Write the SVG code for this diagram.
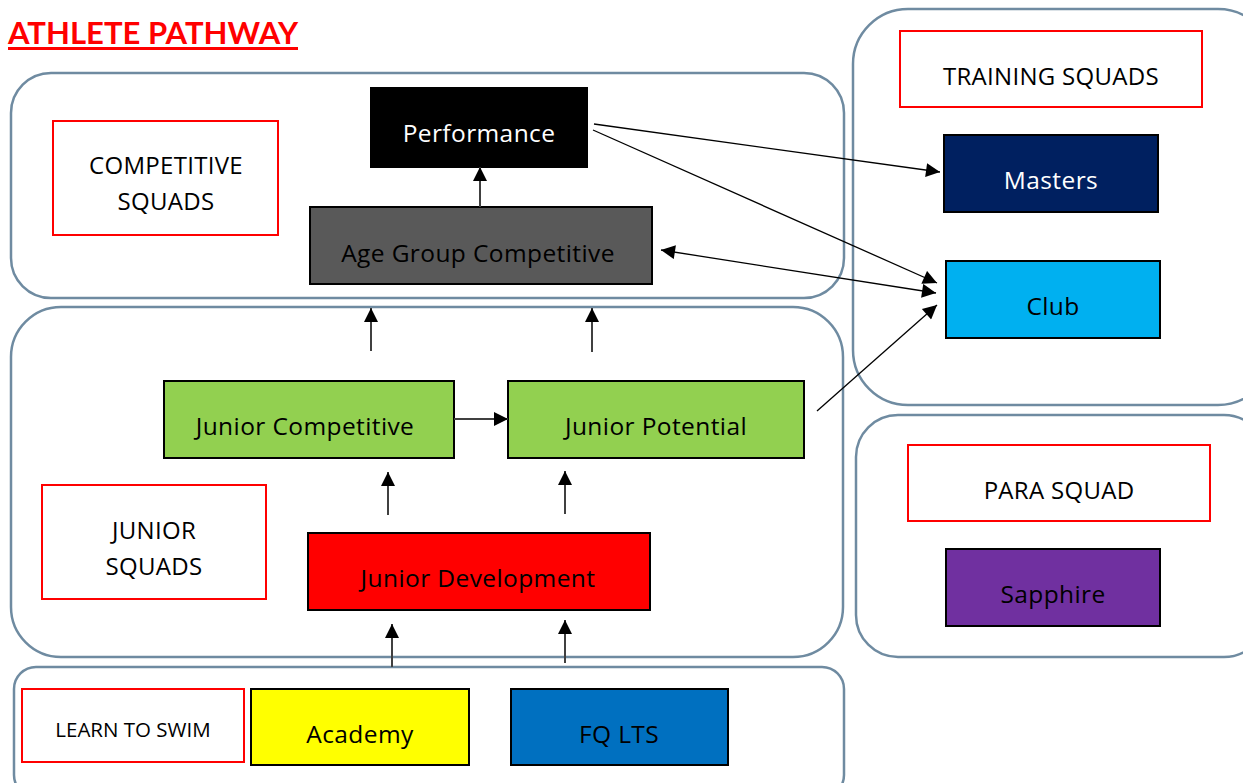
<svg xmlns="http://www.w3.org/2000/svg" width="1243" height="783" viewBox="0 0 1243 783">
<defs>
<marker id="ah" viewBox="0 0 10 10" refX="10" refY="5" markerWidth="16" markerHeight="14" markerUnits="userSpaceOnUse" orient="auto-start-reverse">
<path d="M0,0 L10,5 L0,10 z" fill="#000"/>
</marker>
<style>
.grp{fill:#fff;stroke:#6F8BA1;stroke-width:2.5}
.lbl{fill:#fff;stroke:#FF0000;stroke-width:2}
.node{stroke:#000;stroke-width:2}
text{font-family:"Open Sans",Lato,sans-serif;text-anchor:middle}
.t{font-size:24.5px;fill:#000;letter-spacing:0.4px}
.w{fill:#fff}
.s{font-size:24px;fill:#000;letter-spacing:0.3px}
.c{stroke:#404040;stroke-width:2;fill:none;marker-end:url(#ah)}
.d{stroke:#000;stroke-width:1.3;fill:none;marker-end:url(#ah)}
</style>
</defs>
<rect width="1243" height="783" fill="#fff"/>
<g id="title">
<text x="8" y="44" style="font-family:Lato,'Open Sans',sans-serif;font-weight:bold;font-size:31px;fill:#FF0000;text-anchor:start" textLength="290" lengthAdjust="spacingAndGlyphs">ATHLETE PATHWAY</text>
<rect x="8" y="47" width="290" height="3" fill="#FF0000"/>
</g>
<g id="competitive-group"><rect class="grp" x="11" y="73" width="833" height="225" rx="40"/></g>
<g id="junior-group"><rect class="grp" x="11" y="307" width="832" height="350" rx="50"/></g>
<g id="lts-group"><rect class="grp" x="14" y="667" width="830" height="130" rx="22"/></g>
<g id="training-group"><rect class="grp" x="853" y="9" width="420" height="396" rx="55"/></g>
<g id="para-group"><rect class="grp" x="856" y="415" width="410" height="242" rx="42"/></g>

<g id="competitive-label"><rect class="lbl" x="53" y="121" width="225" height="114"/>
<text class="s" x="166" y="174">COMPETITIVE</text><text class="s" x="166" y="210">SQUADS</text></g>
<g id="performance"><rect class="node" x="371" y="88" width="216" height="79" fill="#000"/>
<text class="t w" x="479" y="142">Performance</text></g>
<g id="age-group"><rect class="node" x="310" y="207" width="342" height="77" fill="#595959"/>
<text class="t" x="478" y="262">Age Group Competitive</text></g>
<g id="training-label"><rect class="lbl" x="900" y="31" width="302" height="76"/>
<text class="s" x="1051" y="85">TRAINING SQUADS</text></g>
<g id="masters"><rect class="node" x="944" y="135" width="214" height="77" fill="#002060"/>
<text class="t w" x="1051" y="189">Masters</text></g>
<g id="club"><rect class="node" x="946" y="261" width="214" height="77" fill="#00B0F0"/>
<text class="t" x="1053" y="315">Club</text></g>
<g id="para-label"><rect class="lbl" x="908" y="445" width="302" height="76"/>
<text class="s" x="1059" y="499">PARA SQUAD</text></g>
<g id="sapphire"><rect class="node" x="946" y="549" width="214" height="77" fill="#7030A0"/>
<text class="t" x="1053" y="603">Sapphire</text></g>
<g id="junior-label"><rect class="lbl" x="42" y="485" width="224" height="114"/>
<text class="s" x="154" y="539">JUNIOR</text><text class="s" x="154" y="575">SQUADS</text></g>
<g id="junior-competitive"><rect class="node" x="164" y="381" width="290" height="77" fill="#92D050"/>
<text class="t" x="305" y="435">Junior Competitive</text></g>
<g id="junior-potential"><rect class="node" x="508" y="381" width="296" height="77" fill="#92D050"/>
<text class="t" x="656" y="435">Junior Potential</text></g>
<g id="junior-development"><rect class="node" x="308" y="533" width="342" height="77" fill="#FF0000"/>
<text class="t" x="478" y="587">Junior Development</text></g>
<g id="lts-label"><rect class="lbl" x="22" y="689" width="222" height="73"/>
<text x="133" y="737" style="font-size:20.5px;fill:#000">LEARN TO SWIM</text></g>
<g id="academy"><rect class="node" x="251" y="689" width="218" height="76" fill="#FFFF00"/>
<text class="t" x="360" y="743">Academy</text></g>
<g id="fq-lts"><rect class="node" x="511" y="689" width="217" height="76" fill="#0070C0"/>
<text class="t" x="619" y="743">FQ LTS</text></g>

<g id="connectors">
<line class="c" x1="480" y1="207" x2="480" y2="167"/>
<line class="c" x1="371" y1="351" x2="371" y2="308"/>
<line class="c" x1="592" y1="352" x2="592" y2="308"/>
<line class="c" x1="454" y1="419" x2="508" y2="419"/>
<line class="c" x1="388" y1="515" x2="388" y2="472"/>
<line class="c" x1="565" y1="514" x2="565" y2="471"/>
<line class="c" x1="392" y1="667" x2="392" y2="624"/>
<line class="c" x1="565" y1="663" x2="565" y2="620"/>
<line class="d" x1="594" y1="124" x2="940" y2="172"/>
<line class="d" x1="593" y1="130" x2="937" y2="283"/>
<line class="d" x1="661" y1="250" x2="936" y2="293" style="marker-start:url(#ah)"/>
<line class="d" x1="817" y1="411" x2="937" y2="305"/>
</g>
</svg>
